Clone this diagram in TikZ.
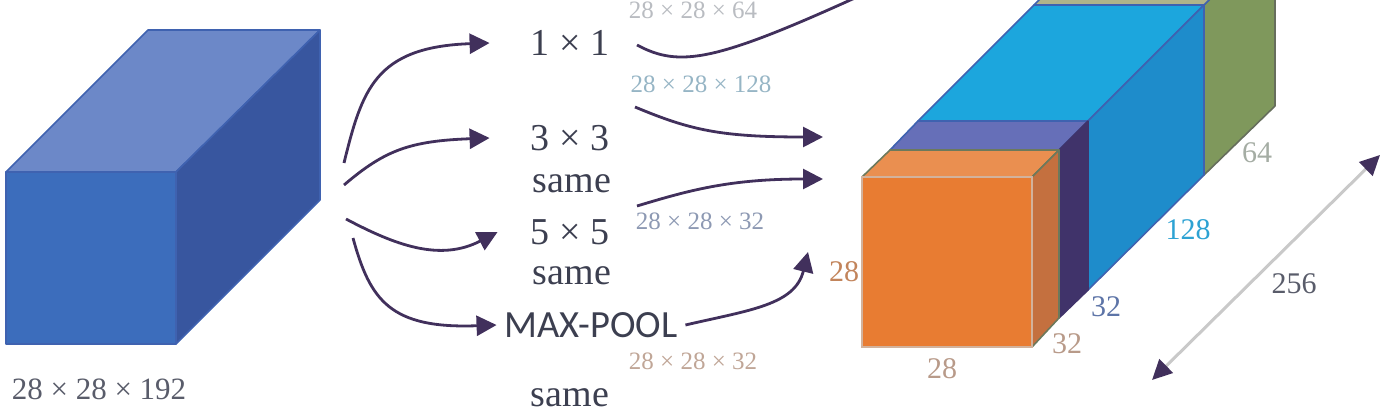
\documentclass[tikz,border=0pt]{standalone}
\usepackage{fontspec}
\setmainfont{Liberation Serif}
\newfontfamily\capsfont{Carlito}
\usetikzlibrary{arrows.meta}
\definecolor{inkFlow}{HTML}{41305C}
\definecolor{inkText}{HTML}{3C3F50}
\definecolor{inkSoft}{HTML}{8A8F98}
\definecolor{inkBar}{HTML}{C9C9C9}
\definecolor{edgeBlue}{HTML}{3F62B0}
\definecolor{inFront}{HTML}{3C6DBC}
\definecolor{inTop}{HTML}{6C88C8}
\definecolor{inSide}{HTML}{38569F}
\definecolor{orFront}{HTML}{E87C32}
\definecolor{orTop}{HTML}{EA8F50}
\definecolor{orSide}{HTML}{C4703F}
\definecolor{puTop}{HTML}{666FB8}
\definecolor{puSide}{HTML}{40336A}
\definecolor{skTop}{HTML}{1CA6DD}
\definecolor{skSide}{HTML}{1E8CCB}
\definecolor{grSide}{HTML}{7F985C}
\definecolor{grTop}{HTML}{B0B48A}
\tikzset{
  x=1pt, y=-1pt,
  face/.style={draw=edgeBlue, line width=1.6pt, line join=round},
  opname/.style={font=\fontsize{38}{40}\selectfont, text=inkText, inner sep=0pt},
  poolname/.style={font=\capsfont\fontsize{38.5}{40}\selectfont, text=inkText, inner sep=8pt},
  shapelabel/.style={font=\fontsize{25}{27}\selectfont, inner sep=0pt},
  sidelabel/.style={font=\fontsize{30}{32}\selectfont, inner sep=0pt},
  flow/.style={-{Triangle[length=20pt, width=20pt]}, line width=2.8pt, inkFlow},
  flowfree/.style={line width=2.8pt, inkFlow},
  span/.style={{Triangle[length=20pt, width=19pt, color=inkFlow]}-{Triangle[length=20pt, width=19pt, color=inkFlow]}, line width=3pt, inkBar}
}
\begin{document}
\begin{tikzpicture}
  \useasboundingbox (0,0) rectangle (1400,420);
  \clip (0,0) rectangle (1400,420);

  % input volume
  \draw[face, fill=inTop] (6,172) -- (148,30) -- (320,30) -- (176,172) -- cycle;
  \draw[face, fill=inSide] (176,172) -- (320,30) -- (320,200) -- (176,344) -- cycle;
  \draw[face, fill=inFront] (6,172) rectangle (176,344);

  % output volume, back to front
  \draw[face, fill=grSide, draw=grSide!60!inkFlow] (1204,5) -- (1224,-15) -- (1275,-15) -- (1275,106) -- (1204,175) -- cycle;
  \draw[face, fill=grTop] (1034,5) -- (1054,-15) -- (1224,-15) -- (1204,5) -- cycle;
  \draw[face, fill=skTop] (918,121) -- (1034,5) -- (1204,5) -- (1088,121) -- cycle;
  \draw[face, fill=skSide] (1088,121) -- (1204,5) -- (1204,175) -- (1088,290) -- cycle;
  \draw[face, fill=puTop] (890,150) -- (918,121) -- (1088,121) -- (1059,150) -- cycle;
  \draw[face, fill=puSide, draw=puSide] (1059,150) -- (1088,121) -- (1088,290) -- (1059,318) -- cycle;
  \draw[face, fill=orTop, draw=grSide!70!inkFlow] (862,177) -- (890,150) -- (1059,150) -- (1032,177) -- cycle;
  \draw[face, fill=orSide, draw=grSide!70!inkFlow] (1032,177) -- (1059,150) -- (1059,318) -- (1032,347) -- cycle;
  \draw[line width=1.4pt, fill=orFront, draw=inkBar!70!orFront] (862,177) rectangle (1032,347);

  % operations
  \node[opname] (one) at (570,43) {1 × 1};
  \node[opname] (three) at (570,138) {3 × 3};
  \node[opname] (threesame) at (572,184) {same};
  \node[opname] (five) at (570,232) {5 × 5};
  \node[opname] (fivesame) at (572,276) {same};
  \node[poolname] (pool) at (591,325) {MAX-POOL};
  \node[opname] (poolsame) at (570,398) {same};

  % sizes
  \foreach \name/\x/\y/\lbl/\col in {
    sone/693/10/{28 × 28 × 64}/inkSoft!60,
    sthree/701/84/{28 × 28 × 128}/skTop!30!inkSoft!70,
    sfive/700/221/{28 × 28 × 32}/edgeBlue!35!inkSoft!80,
    spool/693/361/{28 × 28 × 32}/orFront!35!inkSoft!75}{
    \node[shapelabel, text=\col] (\name) at (\x,\y) {\lbl};
  }
  \node[font=\fontsize{31}{33}\selectfont, inner sep=0pt, text=inkText!85] (sinput) at (99,389) {28 × 28 × 192};
  \foreach \name/\x/\y/\lbl/\col in {
    dheight/844/272/28/orFront!60!inkSoft,
    dwidth/942/369/28/orFront!35!inkSoft!85,
    dorange/1067/344/32/orFront!35!inkSoft!85,
    dpurple/1106/307/32/edgeBlue!60!inkSoft,
    dsky/1188/230/128/skTop!85!inkSoft,
    dgreen/1257/153/64/grSide!30!inkSoft!75,
    dtotal/1294/284/256/inkText!85}{
    \node[sidelabel, text=\col] (\name) at (\x,\y) {\lbl};
  }

  % free ends of the flows
  \coordinate (splita) at (344,163);
  \coordinate (splitb) at (344,185);
  \coordinate (splitc) at (346,219);
  \coordinate (splitd) at (353,238);
  \coordinate (outa) at (637,45);
  \coordinate (outb) at (635,107);
  \coordinate (outc) at (637,206);
  \coordinate (mergea) at (868,-8);
  \coordinate (mergeb) at (823,137);
  \coordinate (mergec) at (823,179);
  \coordinate (merged) at (808,252);
  \coordinate (spanlow) at (1152,380);
  \coordinate (spanhigh) at (1380,155);

  \draw[flow] (splita) .. controls (362,90) and (375,47) .. ([xshift=-41pt]one.west);
  \draw[flow] (splitb) .. controls (385,150) and (410,141) .. ([xshift=-41pt]three.west);
  \draw[flow] (splitc) .. controls (395,245) and (440,262) .. ([xshift=-33pt]five.west);
  \draw[flow] (splitd) .. controls (370,300) and (390,329) .. (pool.west);
  \draw[flowfree] (outa) .. controls (680,68) and (715,62) .. (mergea);
  \draw[flow] (outb) .. controls (690,130) and (720,137) .. (mergeb);
  \draw[flow] (outc) .. controls (690,190) and (730,179) .. (mergec);
  \draw[flow] (pool.east) .. controls (750,310) and (795,305) .. (merged);
  \draw[span] (spanlow) -- (spanhigh);
\end{tikzpicture}
\end{document}
